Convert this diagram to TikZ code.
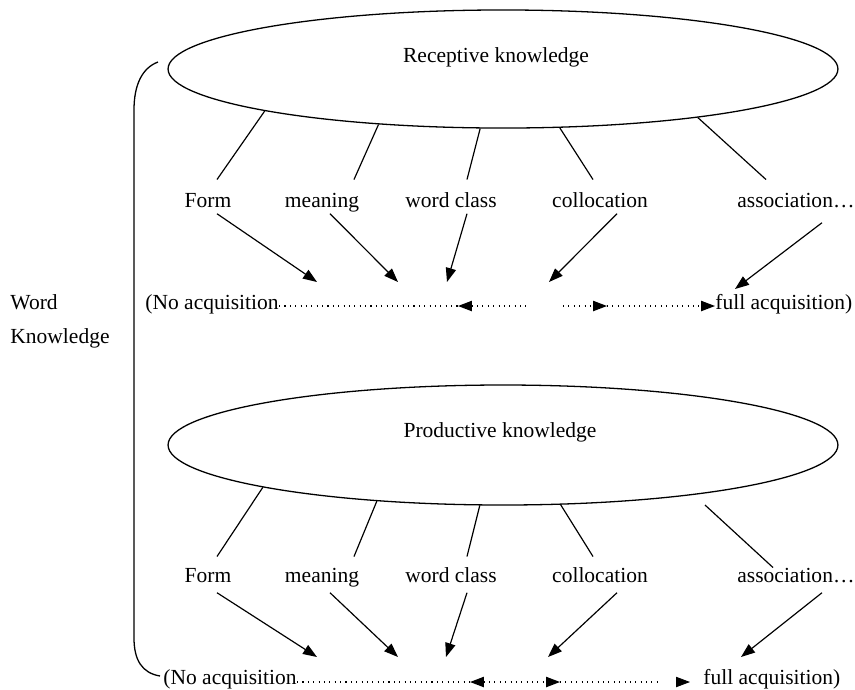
\documentclass[tikz,border=0pt]{standalone}
\usepackage{fontspec}
\setmainfont{Liberation Serif}
\usetikzlibrary{shapes.geometric,arrows.meta}

\begin{document}
\begin{tikzpicture}[x=0.465pt,y=-0.465pt,
        >={Triangle[length=6.5pt,width=4.8pt]},
        bub/.style={draw,ellipse,line width=0.6pt,inner sep=0pt,minimum width=311.5pt},
        lbl/.style={inner sep=0pt,text height=7pt,text depth=2pt,anchor=base},
        link/.style={line width=0.55pt},
        arr/.style={line width=0.55pt,->},
        dots/.style={line width=0.6pt,dash pattern=on 0.5pt off 2pt}]
    \useasboundingbox (0,0) rectangle (855,689);

    % brace and side text
    \draw[line width=0.6pt] (158,62) .. controls (142,68) and (134,85) .. (134,110)
        -- (134,638) .. controls (134,660) and (142,673) .. (160,676);
    \node[lbl,anchor=base west] (word) at (10,309) {Word};
    \node[lbl,anchor=base west] (know) at (10,343) {Knowledge};

    % receptive part
    \node[bub,minimum height=54.9pt] (rec) at (503,69) {};
    \node[lbl] (recl) at (496,62) {Receptive knowledge};
    \node[lbl] (form1) at (208,207) {Form};
    \node[lbl] (mean1) at (322,207) {meaning};
    \node[lbl] (wcls1) at (451,207) {word class};
    \node[lbl] (coll1) at (600,207) {collocation};
    \node[lbl,anchor=base west] (assoc1) at (737,207) {association…};
    \draw[link] (rec.190) -- ([shift={(9,-12)}]form1.north);
    \draw[link] (rec.204) -- ([shift={(32,-12)}]mean1.north);
    \draw[link] (rec.249) -- ([shift={(16,-12)}]wcls1.north);
    \draw[link] (rec.314) -- ([shift={(-7,-12)}]coll1.north);
    \draw[link] (rec.346) -- ([shift={(29,-12)}]assoc1.north west);

    \coordinate (t11) at (317,282);
    \coordinate (t12) at (398,282);
    \coordinate (t13) at (447,282);
    \coordinate (t14) at (549,282);
    \coordinate (t15) at (735,289);
    \draw[arr] ([shift={(9,2)}]form1.south) -- (t11);
    \draw[arr] ([shift={(8,2)}]mean1.south) -- (t12);
    \draw[arr] ([shift={(16,2)}]wcls1.south) -- (t13);
    \draw[arr] ([shift={(17,2)}]coll1.south) -- (t14);
    \draw[arr] ([shift={(85,11)}]assoc1.south west) -- (t15);

    \node[lbl,anchor=base west] (noacq1) at (145,309) {(No acquisition};
    \node[lbl,anchor=base west] (full1) at (715,309) {full acquisition)};
    \coordinate (d11) at (458,306);
    \coordinate (d12) at (530,306);
    \coordinate (d13) at (563,306);
    \coordinate (d14) at (607,306);
    \draw[dots] (noacq1.base east |- d11) -- (d11);
    \draw[dots,<-] (d11) -- (d12);
    \draw[dots,->] (d13) -- (d14);
    \draw[dots,->] (d14) -- (full1.west |- d14);

    % productive part
    \node[bub,minimum height=55.8pt] (prod) at (503,445) {};
    \node[lbl] (prodl) at (500,437) {Productive knowledge};
    \node[lbl] (form2) at (208,582) {Form};
    \node[lbl] (mean2) at (322,582) {meaning};
    \node[lbl] (wcls2) at (451,582) {word class};
    \node[lbl] (coll2) at (600,582) {collocation};
    \node[lbl,anchor=base west] (assoc2) at (737,582) {association…};
    \coordinate (s25) at (705,505);
    \draw[link] (prod.190) -- ([shift={(9,-10)}]form2.north);
    \draw[link] (prod.204) -- ([shift={(32,-10)}]mean2.north);
    \draw[link] (prod.249) -- ([shift={(16,-10)}]wcls2.north);
    \draw[link] (prod.314) -- ([shift={(-7,-10)}]coll2.north);
    \draw[link] (s25) -- ([shift={(36,1)}]assoc2.north west);

    \coordinate (t21) at (317,657);
    \coordinate (t22) at (398,657);
    \coordinate (t23) at (446,657);
    \coordinate (t24) at (548,657);
    \coordinate (t25) at (741,657);
    \draw[arr] ([shift={(9,6)}]form2.south) -- (t21);
    \draw[arr] ([shift={(8,6)}]mean2.south) -- (t22);
    \draw[arr] ([shift={(16,6)}]wcls2.south) -- (t23);
    \draw[arr] ([shift={(17,6)}]coll2.south) -- (t24);
    \draw[arr] ([shift={(85,6)}]assoc2.south west) -- (t25);

    \node[lbl,anchor=base west] (noacq2) at (163,684) {(No acquisition};
    \node[lbl,anchor=base west] (full2) at (703,684) {full acquisition)};
    \coordinate (d21) at (470,682);
    \coordinate (d22) at (560,682);
    \coordinate (d23) at (660,682);
    \coordinate (d24) at (677,682);
    \coordinate (d25) at (690,682);
    \draw[dots] (noacq2.base east |- d21) -- (d21);
    \draw[dots,<->] (d21) -- (d22);
    \draw[dots] (d22) -- (d23);
    \draw[->] (d24) -- (d25);
\end{tikzpicture}
\end{document}
